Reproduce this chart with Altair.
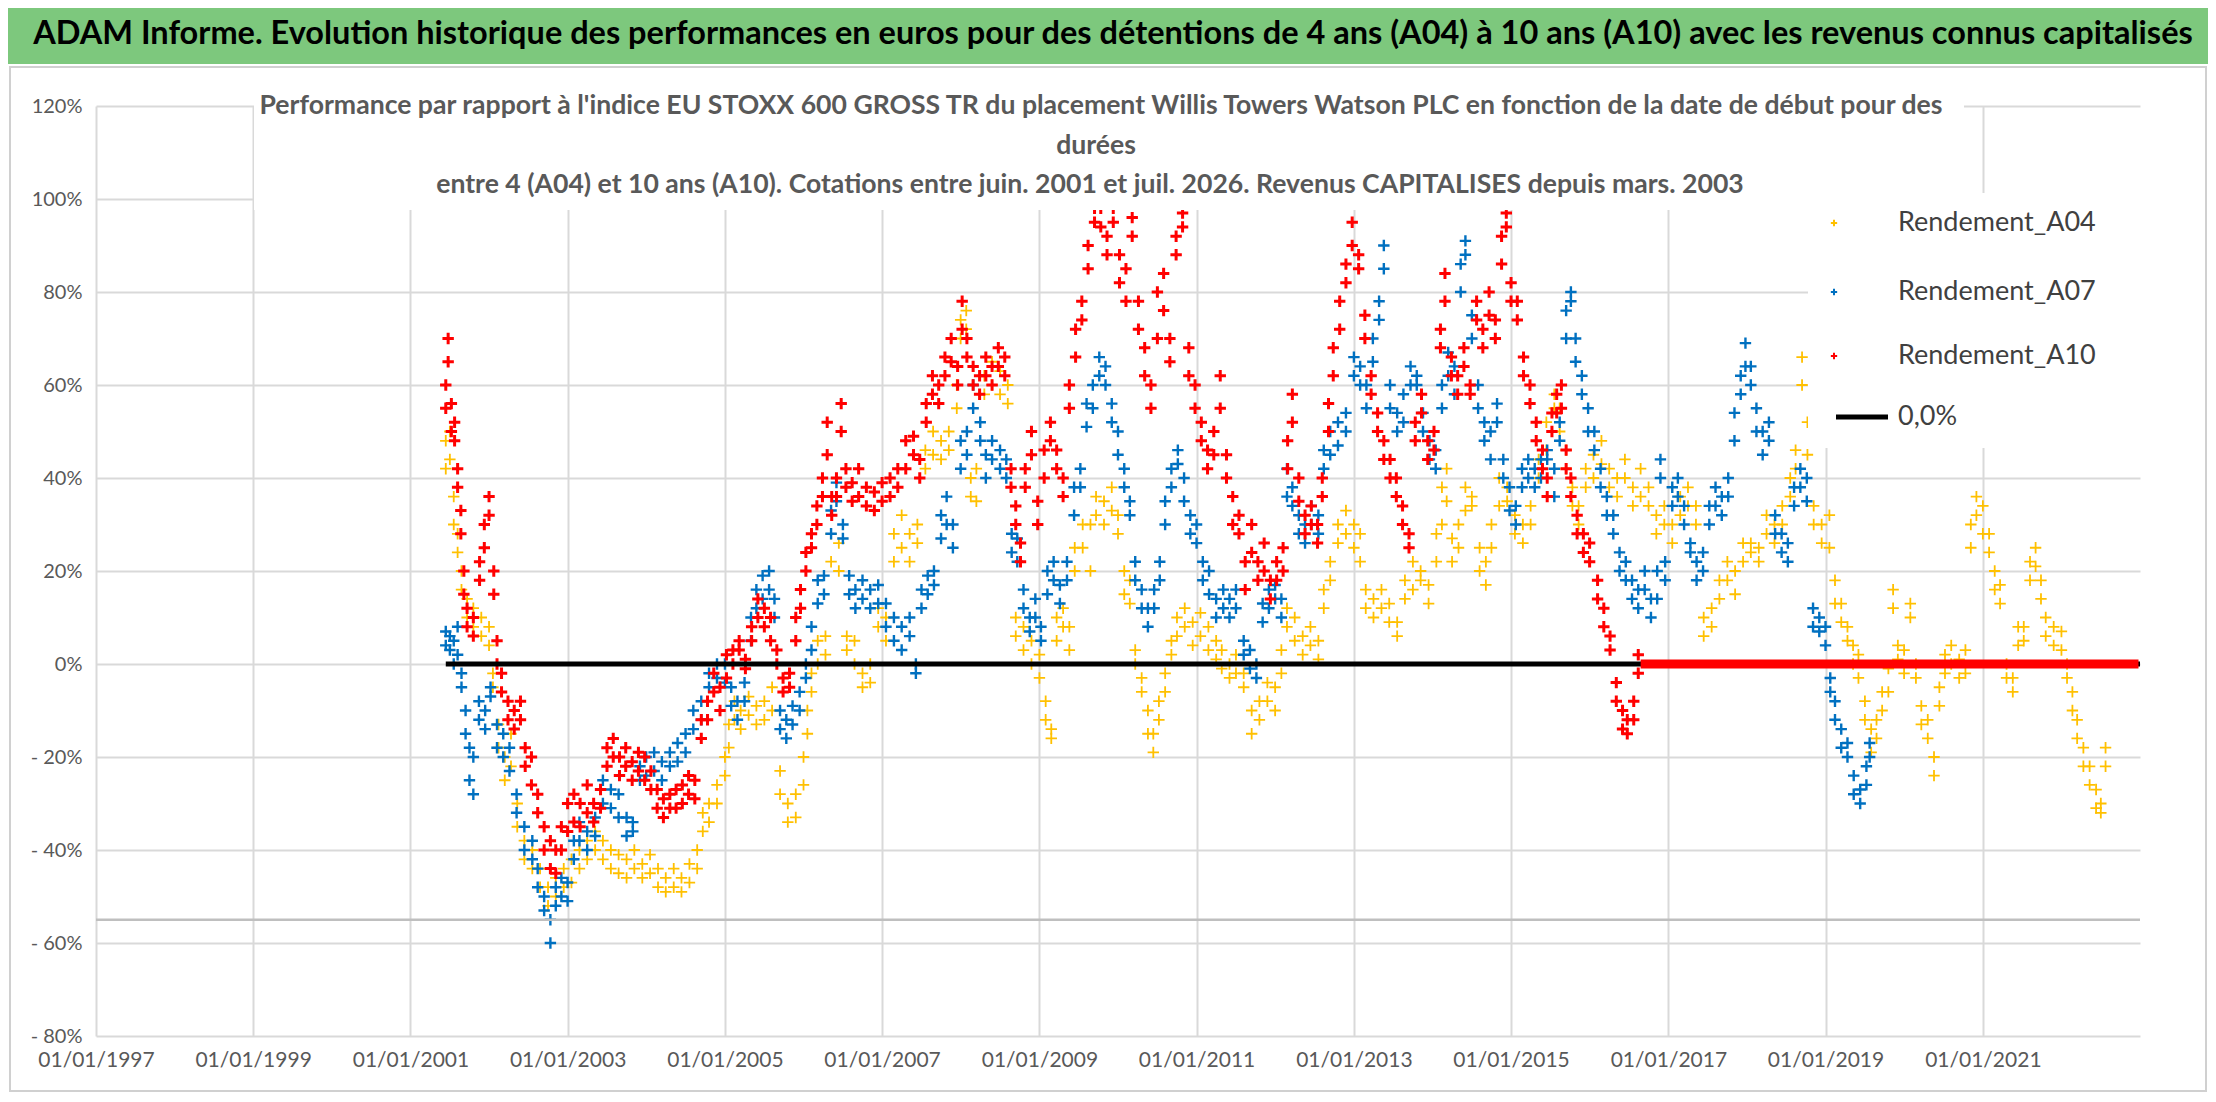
import altair as alt
import pandas as pd

# ---------------- data (decimal year, value %, value %) ----------------
A04 = [
    (2001.45, 48, 42), (2001.5, 50, 44), (2001.55, 36, 30), (2001.6, 28, 24), (2001.65, 20, 16),
    (2001.72, 14, 10), (2001.8, 8, 12), (2001.9, 6, 10), (2002.0, 4, 8), (2002.05, -5, -2),
    (2002.12, -13, -18), (2002.2, -20, -25), (2002.28, -15, -22), (2002.36, -30, -35), (2002.45, -38, -42),
    (2002.55, -40, -44), (2002.65, -44, -48), (2002.75, -48, -52), (2002.85, -46, -50), (2002.95, -44, -48),
    (2003.05, -42, -47), (2003.15, -40, -44), (2003.25, -38, -42), (2003.35, -36, -40), (2003.45, -38, -42),
    (2003.55, -40, -44), (2003.65, -41, -45), (2003.75, -42, -46), (2003.85, -40, -44), (2003.95, -43, -46),
    (2004.05, -41, -45), (2004.15, -44, -48), (2004.25, -46, -49), (2004.35, -44, -48), (2004.45, -46, -49),
    (2004.55, -43, -47), (2004.65, -40, -44), (2004.72, -36, -32), (2004.8, -30, -34), (2004.9, -26, -30),
    (2005.0, -20, -24), (2005.05, -13, -18), (2005.12, -8, -12), (2005.2, -10, -14), (2005.3, -7, -11),
    (2005.4, -9, -13), (2005.5, -8, -12), (2005.6, -10, -5), (2005.7, -23, -28), (2005.8, -30, -34),
    (2005.9, -28, -33), (2006.0, -20, -26), (2006.05, -10, -15), (2006.1, -2, -6), (2006.18, 5, 0),
    (2006.28, 6, 2), (2006.35, 22, 28), (2006.45, 20, 26), (2006.55, 6, 3), (2006.65, 5, 0),
    (2006.75, -2, -5), (2006.85, 0, -4), (2006.95, 8, 12), (2007.05, 5, 10), (2007.15, 22, 28),
    (2007.25, 25, 32), (2007.35, 22, 28), (2007.45, 30, 26), (2007.55, 42, 46), (2007.65, 45, 50),
    (2007.75, 48, 44), (2007.85, 50, 46), (2007.95, 55, 60), (2008.0, 70, 74), (2008.07, 72, 76),
    (2008.13, 40, 36), (2008.2, 35, 42), (2008.3, 58, 62), (2008.4, 60, 65), (2008.5, 58, 63),
    (2008.6, 56, 60), (2008.7, 10, 6), (2008.8, 3, 8), (2008.9, 0, 5), (2009.0, -3, 2),
    (2009.08, -8, -12), (2009.15, -14, -16), (2009.22, 5, 10), (2009.3, 8, 12), (2009.38, 3, 8),
    (2009.45, 20, 25), (2009.55, 25, 30), (2009.65, 30, 20), (2009.72, 32, 36), (2009.82, 35, 30),
    (2009.92, 38, 33), (2010.0, 28, 32), (2010.08, 15, 20), (2010.15, 13, 18), (2010.22, 0, 3),
    (2010.3, -3, -6), (2010.38, -10, -15), (2010.45, -15, -19), (2010.52, -8, -12), (2010.6, -2, -6),
    (2010.68, 2, 5), (2010.75, 6, 10), (2010.85, 8, 12), (2010.95, 4, 9), (2011.05, 6, 11),
    (2011.15, 3, 8), (2011.25, 1, 5), (2011.32, -1, 3), (2011.42, 0, -3), (2011.5, -2, 2),
    (2011.6, -5, -2), (2011.7, -10, -15), (2011.8, -8, -12), (2011.9, -4, -8), (2012.0, -5, -10),
    (2012.08, 3, -2), (2012.15, 8, 12), (2012.25, 5, 10), (2012.35, 2, 6), (2012.45, 4, 8),
    (2012.55, 1, 5), (2012.62, 12, 16), (2012.7, 18, 22), (2012.8, 26, 30), (2012.9, 28, 33),
    (2013.0, 25, 30), (2013.08, 28, 22), (2013.15, 12, 16), (2013.25, 10, 14), (2013.35, 12, 16),
    (2013.45, 9, 13), (2013.55, 6, 9), (2013.65, 14, 18), (2013.75, 16, 22), (2013.85, 18, 20),
    (2013.95, 13, 17), (2014.05, 22, 28), (2014.12, 30, 38), (2014.18, 35, 42), (2014.25, 22, 27),
    (2014.33, 25, 30), (2014.42, 33, 38), (2014.5, 34, 36), (2014.6, 20, 25), (2014.68, 17, 22),
    (2014.75, 25, 30), (2014.85, 34, 40), (2014.95, 35, 38), (2015.05, 28, 32), (2015.15, 26, 30),
    (2015.25, 30, 34), (2015.35, 40, 44), (2015.45, 46, 52), (2015.55, 55, 58), (2015.62, 50, 55),
    (2015.7, 42, 46), (2015.78, 34, 38), (2015.86, 30, 34), (2015.95, 38, 42), (2016.05, 40, 45),
    (2016.15, 43, 48), (2016.25, 38, 42), (2016.35, 36, 40), (2016.45, 40, 44), (2016.55, 34, 38),
    (2016.65, 36, 42), (2016.75, 34, 38), (2016.85, 28, 32), (2016.95, 30, 34), (2017.05, 26, 30),
    (2017.15, 32, 36), (2017.25, 34, 38), (2017.35, 30, 34), (2017.45, 10, 6), (2017.55, 8, 12),
    (2017.65, 14, 18), (2017.75, 18, 22), (2017.85, 15, 20), (2017.95, 22, 26), (2018.05, 24, 26),
    (2018.15, 22, 25), (2018.25, 28, 32), (2018.35, 26, 30), (2018.45, 30, 34), (2018.55, 36, 40),
    (2018.62, 42, 46), (2018.7, 60, 66), (2018.77, 45, 52), (2018.85, 34, 30), (2018.95, 26, 30),
    (2019.05, 25, 32), (2019.12, 13, 18), (2019.2, 9, 13), (2019.28, 5, 8), (2019.35, 0, 4),
    (2019.42, -3, 2), (2019.5, -8, -12), (2019.58, -14, -19), (2019.65, -12, -16), (2019.72, -6, -10),
    (2019.8, -1, -6), (2019.86, 12, 16), (2019.92, 1, 4), (2020.0, -2, 3), (2020.08, 10, 13),
    (2020.15, 0, -3), (2020.22, -9, -13), (2020.3, -12, -16), (2020.38, -20, -24), (2020.45, -9, -5),
    (2020.52, -2, 2), (2020.6, 0, 4), (2020.7, -3, 1), (2020.78, 3, -2), (2020.85, 25, 30),
    (2020.92, 32, 36), (2021.0, 28, 34), (2021.08, 24, 28), (2021.15, 16, 20), (2021.22, 13, 17),
    (2021.3, 0, -3), (2021.38, -3, -6), (2021.45, 4, 8), (2021.52, 5, 8), (2021.6, 18, 22),
    (2021.67, 21, 25), (2021.74, 14, 18), (2021.8, 6, 10), (2021.9, 4, 8), (2022.0, 3, 7),
    (2022.07, 0, -3), (2022.14, -6, -10), (2022.2, -12, -16), (2022.28, -18, -22), (2022.36, -22, -26),
    (2022.44, -27, -31), (2022.5, -30, -32), (2022.56, -18, -22),
]

A07 = [
    (2001.45, 4, 7), (2001.5, 3, 6), (2001.55, 0, 5), (2001.6, 2, 8), (2001.65, -2, -5),
    (2001.7, -10, -15), (2001.75, -18, -25), (2001.8, -28, -20), (2001.87, -8, -12), (2001.95, -10, -14),
    (2002.02, -7, -5), (2002.1, -13, -18), (2002.18, -15, -20), (2002.26, -18, -23), (2002.35, -28, -32),
    (2002.45, -35, -40), (2002.55, -38, -42), (2002.62, -44, -48), (2002.7, -50, -53), (2002.78, -55, -60),
    (2002.85, -52, -48), (2002.92, -50, -46), (2003.0, -47, -51), (2003.08, -38, -42), (2003.15, -34, -38),
    (2003.25, -36, -40), (2003.35, -33, -37), (2003.45, -25, -30), (2003.55, -27, -31), (2003.65, -28, -33),
    (2003.75, -33, -37), (2003.83, -34, -36), (2003.92, -22, -25), (2004.0, -20, -24), (2004.1, -19, -23),
    (2004.2, -21, -25), (2004.3, -19, -22), (2004.4, -17, -21), (2004.5, -15, -19), (2004.6, -10, -14),
    (2004.7, -8, -12), (2004.8, -2, -5), (2004.9, 0, -3), (2005.0, 0, -4), (2005.08, -5, -9),
    (2005.16, -8, -12), (2005.25, -4, -8), (2005.33, 5, 10), (2005.4, 12, 16), (2005.48, 14, 19),
    (2005.56, 16, 20), (2005.63, 10, 14), (2005.7, -10, -14), (2005.78, -12, -16), (2005.86, -9, -13),
    (2005.95, -6, -10), (2006.03, -3, 0), (2006.1, 3, 8), (2006.18, 13, 18), (2006.26, 15, 19),
    (2006.35, 28, 33), (2006.42, 35, 39), (2006.5, 30, 27), (2006.58, 15, 19), (2006.66, 12, 16),
    (2006.75, 14, 18), (2006.85, 12, 16), (2006.95, 13, 17), (2007.05, 8, 13), (2007.15, 5, 10),
    (2007.25, 3, 8), (2007.35, 6, 10), (2007.43, 0, -2), (2007.5, 12, 16), (2007.58, 15, 19),
    (2007.66, 17, 20), (2007.75, 27, 32), (2007.82, 30, 36), (2007.9, 25, 30), (2008.0, 42, 48),
    (2008.08, 45, 50), (2008.16, 55, 60), (2008.25, 48, 52), (2008.32, 40, 45), (2008.4, 44, 48),
    (2008.5, 42, 46), (2008.58, 40, 44), (2008.65, 28, 24), (2008.72, 22, 27), (2008.8, 12, 16),
    (2008.88, 7, 10), (2008.95, 10, 14), (2009.02, 5, 8), (2009.1, 15, 20), (2009.18, 18, 22),
    (2009.26, 13, 17), (2009.35, 18, 22), (2009.44, 32, 38), (2009.52, 38, 42), (2009.6, 51, 56),
    (2009.68, 55, 60), (2009.76, 62, 66), (2009.84, 60, 64), (2009.92, 52, 56), (2010.0, 45, 50),
    (2010.08, 38, 42), (2010.15, 32, 35), (2010.22, 18, 22), (2010.3, 12, 16), (2010.38, 8, 12),
    (2010.46, 12, 16), (2010.53, 18, 22), (2010.6, 30, 35), (2010.68, 38, 42), (2010.76, 43, 46),
    (2010.84, 35, 40), (2010.92, 28, 32), (2011.0, 26, 30), (2011.08, 18, 22), (2011.16, 15, 20),
    (2011.25, 10, 14), (2011.34, 12, 16), (2011.42, 10, 14), (2011.5, 12, 16), (2011.6, 2, 5),
    (2011.68, -1, 3), (2011.76, -3, 0), (2011.84, 9, 13), (2011.92, 12, 16), (2012.0, 14, 17),
    (2012.08, 10, 14), (2012.15, 36, 42), (2012.22, 34, 38), (2012.3, 28, 32), (2012.38, 26, 30),
    (2012.46, 30, 34), (2012.55, 28, 32), (2012.62, 42, 46), (2012.7, 45, 50), (2012.8, 47, 52),
    (2012.9, 50, 54), (2013.0, 62, 66), (2013.08, 60, 64), (2013.16, 55, 60), (2013.24, 65, 70),
    (2013.32, 74, 78), (2013.38, 85, 90), (2013.46, 55, 60), (2013.55, 50, 54), (2013.63, 52, 58),
    (2013.72, 60, 64), (2013.8, 62, 60), (2013.88, 50, 54), (2013.96, 44, 48), (2014.04, 42, 46),
    (2014.12, 55, 60), (2014.2, 62, 67), (2014.28, 58, 64), (2014.36, 80, 86), (2014.42, 88, 91),
    (2014.5, 70, 75), (2014.58, 55, 60), (2014.66, 48, 52), (2014.74, 44, 50), (2014.82, 52, 56),
    (2014.9, 40, 44), (2014.98, 33, 38), (2015.06, 30, 34), (2015.14, 38, 42), (2015.22, 40, 44),
    (2015.3, 38, 42), (2015.38, 40, 44), (2015.46, 44, 46), (2015.55, 36, 42), (2015.62, 48, 52),
    (2015.7, 70, 76), (2015.76, 78, 80), (2015.82, 65, 70), (2015.9, 58, 62), (2015.98, 50, 55),
    (2016.06, 46, 50), (2016.14, 38, 42), (2016.22, 32, 36), (2016.3, 28, 32), (2016.38, 20, 24),
    (2016.46, 18, 22), (2016.54, 14, 18), (2016.62, 12, 16), (2016.7, 16, 20), (2016.78, 10, 14),
    (2016.86, 14, 20), (2016.9, 40, 44), (2016.96, 18, 22), (2017.05, 34, 38), (2017.12, 36, 40),
    (2017.2, 30, 34), (2017.28, 24, 26), (2017.36, 18, 22), (2017.44, 20, 24), (2017.52, 30, 34),
    (2017.6, 34, 38), (2017.68, 32, 36), (2017.76, 36, 40), (2017.84, 48, 54), (2017.92, 58, 62),
    (2017.98, 64, 69), (2018.05, 60, 64), (2018.12, 50, 55), (2018.2, 45, 50), (2018.28, 48, 52),
    (2018.36, 28, 32), (2018.44, 24, 28), (2018.52, 22, 26), (2018.6, 34, 38), (2018.68, 38, 42),
    (2018.76, 35, 40), (2018.84, 12, 8), (2018.92, 7, 10), (2019.0, 4, 8), (2019.06, -3, -6),
    (2019.12, -8, -12), (2019.2, -14, -18), (2019.28, -20, -17), (2019.36, -24, -28), (2019.44, -27, -30),
    (2019.52, -22, -26), (2019.56, -17, -20),
]

A10 = [
    (2001.45, 55, 60), (2001.48, 65, 70), (2001.52, 50, 56), (2001.56, 48, 52), (2001.6, 42, 38),
    (2001.64, 33, 28), (2001.68, 20, 15), (2001.72, 8, 12), (2001.8, 10, 6), (2001.88, 18, 22),
    (2001.94, 25, 30), (2002.0, 32, 36), (2002.06, 15, 20), (2002.1, 5, 0), (2002.16, -2, -6),
    (2002.24, -8, -12), (2002.32, -10, -14), (2002.4, -8, -12), (2002.46, -18, -22), (2002.54, -20, -26),
    (2002.62, -28, -32), (2002.7, -35, -40), (2002.78, -38, -44), (2002.85, -45, -40), (2002.92, -35, -40),
    (2003.0, -30, -36), (2003.08, -28, -34), (2003.16, -30, -35), (2003.25, -26, -32), (2003.33, -30, -34),
    (2003.42, -27, -31), (2003.5, -18, -22), (2003.58, -16, -20), (2003.66, -20, -24), (2003.74, -18, -22),
    (2003.82, -21, -25), (2003.9, -19, -23), (2003.98, -20, -25), (2004.06, -23, -27), (2004.14, -27, -31),
    (2004.22, -29, -33), (2004.3, -28, -31), (2004.38, -27, -31), (2004.46, -26, -30), (2004.54, -24, -28),
    (2004.62, -25, -29), (2004.7, -12, -16), (2004.78, -8, -12), (2004.86, -2, -6), (2004.94, -5, -10),
    (2005.02, -3, 2), (2005.1, 0, 3), (2005.18, 3, 5), (2005.26, 1, -1), (2005.34, 5, 8),
    (2005.42, 10, 14), (2005.5, 8, 12), (2005.58, 5, 10), (2005.66, 0, 3), (2005.74, -3, -6),
    (2005.82, -2, -5), (2005.9, 5, 10), (2005.96, 12, 16), (2006.03, 20, 24), (2006.1, 25, 28),
    (2006.17, 30, 34), (2006.24, 36, 40), (2006.3, 45, 52), (2006.36, 32, 36), (2006.42, 36, 40),
    (2006.48, 50, 56), (2006.54, 38, 42), (2006.62, 35, 39), (2006.7, 36, 42), (2006.8, 34, 38),
    (2006.9, 33, 37), (2007.0, 35, 39), (2007.1, 36, 40), (2007.2, 38, 42), (2007.3, 42, 48),
    (2007.4, 45, 49), (2007.48, 40, 44), (2007.56, 52, 56), (2007.64, 58, 62), (2007.72, 56, 60),
    (2007.8, 62, 66), (2007.88, 65, 70), (2007.96, 60, 64), (2008.02, 72, 78), (2008.08, 66, 70),
    (2008.16, 60, 64), (2008.24, 58, 62), (2008.32, 62, 66), (2008.4, 60, 64), (2008.48, 64, 68),
    (2008.56, 62, 66), (2008.64, 42, 38), (2008.7, 30, 34), (2008.76, 22, 26), (2008.82, 38, 42),
    (2008.9, 45, 50), (2008.98, 30, 35), (2009.06, 40, 46), (2009.14, 48, 52), (2009.22, 42, 46),
    (2009.3, 36, 40), (2009.38, 55, 60), (2009.46, 66, 72), (2009.54, 74, 78), (2009.62, 85, 90),
    (2009.7, 95, 98), (2009.78, 94, 98), (2009.86, 88, 92), (2009.94, 95, 98), (2010.02, 82, 88),
    (2010.1, 78, 85), (2010.18, 92, 96), (2010.26, 72, 78), (2010.34, 62, 68), (2010.42, 55, 60),
    (2010.5, 70, 80), (2010.58, 76, 84), (2010.66, 65, 70), (2010.74, 88, 92), (2010.82, 94, 97),
    (2010.9, 62, 68), (2010.98, 55, 60), (2011.06, 48, 52), (2011.14, 42, 46), (2011.22, 45, 50),
    (2011.3, 55, 62), (2011.38, 40, 45), (2011.46, 30, 36), (2011.54, 28, 32), (2011.62, 16, 22),
    (2011.7, 24, 30), (2011.78, 18, 22), (2011.86, 20, 26), (2011.94, 14, 18), (2012.02, 18, 22),
    (2012.1, 20, 25), (2012.16, 42, 48), (2012.22, 52, 58), (2012.3, 35, 40), (2012.38, 28, 32),
    (2012.46, 30, 34), (2012.54, 26, 30), (2012.6, 36, 40), (2012.68, 50, 56), (2012.74, 62, 68),
    (2012.82, 72, 78), (2012.9, 82, 86), (2012.98, 90, 95), (2013.06, 85, 88), (2013.14, 70, 75),
    (2013.22, 58, 62), (2013.3, 50, 54), (2013.38, 44, 48), (2013.46, 40, 44), (2013.54, 36, 40),
    (2013.62, 30, 34), (2013.7, 25, 28), (2013.78, 48, 52), (2013.86, 54, 58), (2013.94, 44, 48),
    (2014.02, 46, 50), (2014.1, 68, 72), (2014.16, 78, 84), (2014.24, 62, 66), (2014.32, 58, 62),
    (2014.4, 64, 68), (2014.48, 58, 60), (2014.56, 74, 78), (2014.64, 68, 72), (2014.72, 75, 80),
    (2014.8, 70, 74), (2014.88, 86, 92), (2014.94, 94, 97), (2015.0, 78, 82), (2015.08, 74, 78),
    (2015.16, 62, 66), (2015.24, 56, 60), (2015.32, 48, 52), (2015.4, 42, 46), (2015.46, 36, 40),
    (2015.52, 50, 54), (2015.58, 54, 58), (2015.64, 55, 60), (2015.7, 42, 46), (2015.76, 36, 40),
    (2015.84, 28, 32), (2015.92, 24, 28), (2016.0, 22, 26), (2016.1, 14, 18), (2016.18, 8, 12),
    (2016.26, 3, 6), (2016.34, -4, -8), (2016.42, -10, -14), (2016.48, -12, -15), (2016.56, -8, -12),
    (2016.62, 2, -2),
]
# A10 sits exactly on 0 % from this date to the end of the data
A10_ZERO_START = 2016.65
A10_ZERO_END = 2022.98

ZERO_LINE_START = 2001.45
ZERO_LINE_END = 2023.0
AXIS_CROSS = -55

SERIES = ["Rendement_A04", "Rendement_A07", "Rendement_A10"]
COLORS = ["#FFC000", "#0070C0", "#FF0000"]
X_TICK_YEARS = [1997, 1999, 2001, 2003, 2005, 2007, 2009, 2011, 2013, 2015, 2017, 2019, 2021]
Y_TICKS = [-80, -60, -40, -20, 0, 20, 40, 60, 80, 100, 120]

MAIN_TITLE = ("ADAM Informe. Evolution historique des performances en euros pour des détentions "
              "de 4 ans (A04) à 10 ans (A10) avec les revenus connus capitalisés")
SUB_1 = ("Performance par rapport à l'indice EU STOXX 600 GROSS TR  du placement Willis Towers "
         "Watson PLC en fonction de la date de début pour des")
SUB_2 = "durées"
SUB_3 = ("entre 4 (A04) et 10 ans (A10). Cotations entre juin. 2001 et juil. 2026. "
         "Revenus CAPITALISES depuis mars. 2003")


def yr2date(y):
    year = int(y)
    d = pd.Timestamp(year=year, month=1, day=1) + pd.Timedelta(days=round((y - year) * 365.25))
    return d.strftime("%Y/%m/%d")


rows = []
for name, data in zip(SERIES, [A04, A07, A10]):
    for item in data:
        for v in item[1:]:
            rows.append({"date": yr2date(item[0]), "value": v, "series": name})
pts = pd.DataFrame(rows)

FONT = "Lato"
GRAY_TXT = "#595959"
W, H = 2044, 930

x_scale = alt.Scale(domain=[alt.DateTime(year=1997, month=1, date=1),
                            alt.DateTime(year=2023, month=1, date=1)])
y_scale = alt.Scale(domain=[-80, 120], nice=False)

x_axis = alt.Axis(values=[alt.DateTime(year=y, month=1, date=1) for y in X_TICK_YEARS],
                  format="%d/%m/%Y", title=None, grid=True, gridColor="#d9d9d9", gridWidth=2,
                  domain=False, ticks=False, labelFont=FONT, labelFontSize=21,
                  labelColor=GRAY_TXT, labelPadding=13, labelFlush=False)
y_axis = alt.Axis(values=Y_TICKS, title=None, grid=True, gridColor="#d9d9d9", gridWidth=2,
                  domain=False, ticks=False, labelFont=FONT, labelFontSize=20,
                  labelColor=GRAY_TXT, labelPadding=14,
                  labelExpr="datum.value < 0 ? '- ' + (-datum.value) + '%' : datum.value + '%'")

CROSS = "M-1,0L1,0M0,-1L0,1"

points = alt.Chart(pts).mark_point(shape=CROSS, filled=False, size=130, opacity=1).encode(
    x=alt.X("date:T", scale=x_scale, axis=x_axis),
    y=alt.Y("value:Q", scale=y_scale, axis=y_axis),
    color=alt.Color("series:N", scale=alt.Scale(domain=SERIES, range=COLORS), legend=None),
    strokeWidth=alt.StrokeWidth("series:N", scale=alt.Scale(domain=SERIES, range=[1.8, 3, 3]),
                                legend=None),
)

cross_rule = alt.Chart(pd.DataFrame({"v": [AXIS_CROSS]})).mark_rule(
    color="#bfbfbf", strokeWidth=2.5).encode(y=alt.Y("v:Q", scale=y_scale, axis=y_axis))

zero_df = pd.DataFrame({"a": [yr2date(ZERO_LINE_START)], "b": [yr2date(ZERO_LINE_END)], "v": [0]})
zero_line = alt.Chart(zero_df).mark_rule(color="black", strokeWidth=5).encode(
    x=alt.X("a:T", scale=x_scale, axis=x_axis), x2="b:T",
    y=alt.Y("v:Q", scale=y_scale, axis=y_axis))

red_df = pd.DataFrame({"a": [yr2date(A10_ZERO_START)], "b": [yr2date(A10_ZERO_END)], "v": [0]})
red_band = alt.Chart(red_df).mark_rule(color="#FF0000", strokeWidth=9).encode(
    x=alt.X("a:T", scale=x_scale, axis=x_axis), x2="b:T",
    y=alt.Y("v:Q", scale=y_scale, axis=y_axis))

one = pd.DataFrame({"k": [0]})


def box(x1, x2, y1, y2, fill="white", stroke=None, sw=0):
    kw = dict(fill=fill, strokeWidth=sw)
    if stroke:
        kw["stroke"] = stroke
    return alt.Chart(one).mark_rect(**kw).encode(
        x=alt.value(x1), x2=alt.value(x2), y=alt.value(y1), y2=alt.value(y2))


def label(txt, x, y, size, color=GRAY_TXT, weight="normal", align="center"):
    return alt.Chart(one).mark_text(font=FONT, fontSize=size, color=color, fontWeight=weight,
                                    align=align, baseline="middle").encode(
        x=alt.value(x), y=alt.value(y), text=alt.value(txt))


def legend_symbol(color, y):
    return alt.Chart(one).mark_point(shape=CROSS, filled=False, size=40, strokeWidth=2,
                                     color=color, opacity=1).encode(
        x=alt.value(1738), y=alt.value(y))


# subtitle block (white box over the grid)
sub_box = box(158, 1868, -18, 104)
sub1 = label(SUB_1, 1005, 0, 26.6, weight="bold")
sub2 = label(SUB_2, 1000, 40, 26.6, weight="bold")
sub3 = label(SUB_3, 994, 79, 26.6, weight="bold")

# legend block
LEG_Y = [117, 186, 250, 311]
leg_box = box(1712, 2054, 87, 342)
leg_layers = []
for name, col, yy in zip(SERIES, COLORS, LEG_Y):
    leg_layers.append(legend_symbol(col, yy))
    leg_layers.append(label(name, 1802, yy, 27, color="#404040", align="left"))
leg_line = alt.Chart(one).mark_rule(color="black", strokeWidth=5).encode(
    x=alt.value(1740), x2=alt.value(1792), y=alt.value(LEG_Y[3]))
leg_zero = label("0,0%", 1802, LEG_Y[3], 27, color="#404040", align="left")

# green header + outer frame
header = box(-88, 2112, -98, -42, fill="#7DC87D")
header_txt = label(MAIN_TITLE, 1017, -72, 32.5, color="black", weight="bold")
frame = box(-86, 2110, -39, 985, fill="transparent", stroke="#d0d0d0", sw=2)

chart = alt.layer(
    points, cross_rule, zero_line, red_band,
    sub_box, sub1, sub2, sub3,
    leg_box, *leg_layers, leg_line, leg_zero,
    header, header_txt, frame,
).properties(
    width=W, height=H,
    padding={"left": 88, "right": 68, "top": 98, "bottom": 58},
    autosize=alt.AutoSizeParams(type="none"),
    background="white",
).configure_view(strokeWidth=0)

chart.save("out.html", embed_options={"renderer": "svg", "actions": False})
